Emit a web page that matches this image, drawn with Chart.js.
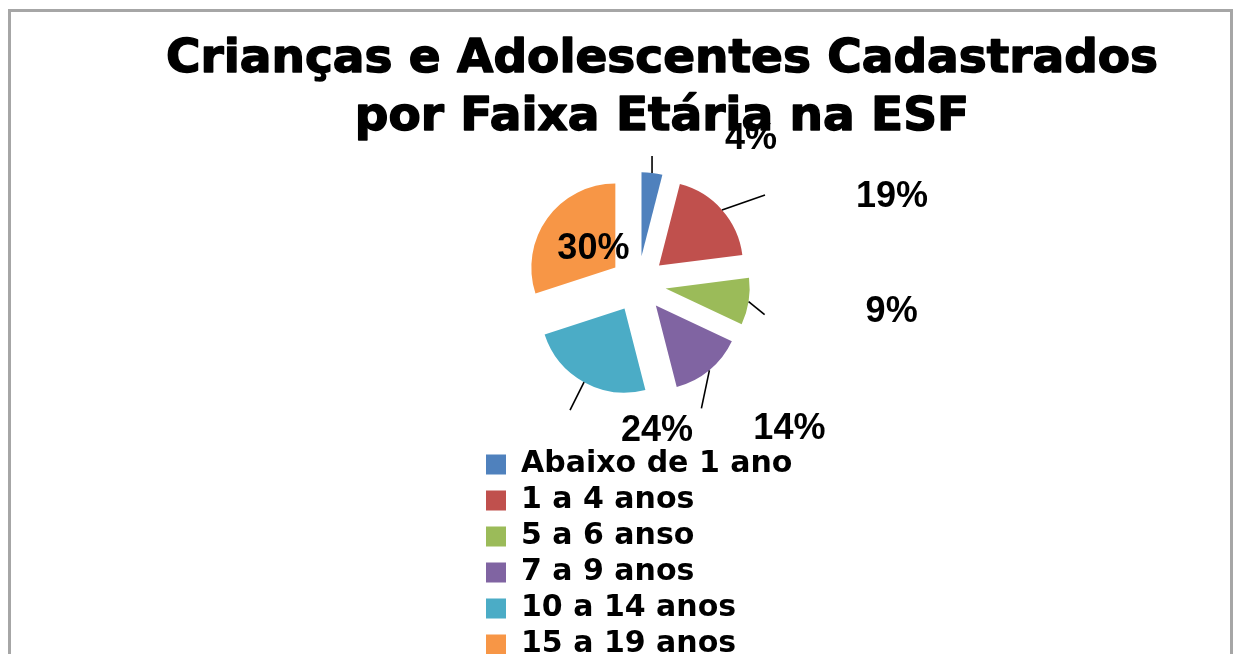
<!DOCTYPE html>
<html>
<head>
<meta charset="utf-8">
<script src="https://cdn.jsdelivr.net/npm/chart.js@4.4.1/dist/chart.umd.min.js"></script>
<style>
  html, body { margin: 0; padding: 0; background: #fff; overflow: hidden; }
  #frame {
    position: absolute; left: 8px; top: 9px; width: 1219px; height: 700px;
    border: 3px solid #a6a6a6; border-bottom: none; pointer-events: none;
  }
  #chart { position: absolute; left: 0; top: 0; }
</style>
</head>
<body>
<canvas id="chart" width="1233" height="680"></canvas>
<div id="frame"></div>
<script>
const titleLines = ["Crianças e Adolescentes Cadastrados", "por Faixa Etária na ESF"];
const ageGroups = ["Abaixo de 1 ano", "1 a 4 anos", "5 a 6 anso", "7 a 9 anos", "10 a 14 anos", "15 a 19 anos"];
const shares = [4, 19, 9, 14, 24, 30];
const sliceColors = ["#4f81bd", "#c0504d", "#9bbb59", "#8064a2", "#4bacc6", "#f79646"];

// title is drawn by hand: the built-in one gets squeezed to the narrow layout box
const titleBlock = {
  id: "titleBlock",
  afterDraw(chart, args, opts) {
    const ctx = chart.ctx;
    ctx.save();
    ctx.font = opts.font;
    ctx.fillStyle = "#000";
    ctx.strokeStyle = "#000";
    ctx.lineWidth = opts.weightStroke;
    ctx.lineJoin = "round";
    ctx.textAlign = "center";
    ctx.textBaseline = "alphabetic";
    opts.lines.forEach((line, i) => {
      const y = opts.baseline + i * opts.lineGap;
      ctx.fillText(line, opts.x, y);
      ctx.strokeText(line, opts.x, y);   // fake a heavier weight
    });
    ctx.restore();
  }
};

// exploded slices + percent labels with leader lines (Excel style)
const explodedPie = {
  id: "explodedPie",
  beforeDatasetDraw(chart, args, opts) {
    const ctx = chart.ctx;
    args.meta.data.forEach(arc => {
      const mid = (arc.startAngle + arc.endAngle) / 2;
      ctx.save();
      ctx.translate(Math.cos(mid) * opts.distance, Math.sin(mid) * opts.distance);
      arc.draw(ctx);
      ctx.restore();
    });
    return false;
  },
  afterDatasetsDraw(chart, args, opts) {
    const ctx = chart.ctx;
    const meta = chart.getDatasetMeta(0);
    const values = chart.data.datasets[0].data;
    const total = values.reduce((a, b) => a + b, 0);
    ctx.save();
    ctx.font = opts.font;
    ctx.fillStyle = "#000";
    ctx.strokeStyle = "#000";
    ctx.lineWidth = 1.6;
    ctx.textAlign = "center";
    ctx.textBaseline = "middle";
    meta.data.forEach((arc, i) => {
      const mid = (arc.startAngle + arc.endAngle) / 2;
      const r = arc.outerRadius + opts.distance;
      const ex = arc.x + Math.cos(mid) * r;
      const ey = arc.y + Math.sin(mid) * r;
      const p = opts.placement[i];
      if (p.leader) {
        ctx.beginPath();
        ctx.moveTo(ex, ey);
        ctx.lineTo(ex + p.leader[0], ey + p.leader[1]);
        ctx.stroke();
      }
      const pct = Math.round(values[i] / total * 100) + "%";
      ctx.fillText(pct, ex + p.text[0], ey + p.text[1]);
    });
    ctx.restore();
  }
};

new Chart(document.getElementById("chart"), {
  type: "pie",
  data: {
    labels: ageGroups,
    datasets: [{
      data: shares,
      backgroundColor: sliceColors,
      borderWidth: 0
    }]
  },
  options: {
    responsive: false,
    animation: false,
    radius: 84,
    layout: {
      padding: { top: 124.5, left: 480, right: 437, bottom: 10.5 }
    },
    plugins: {
      title: { display: false },
      legend: {
        position: "bottom",
        align: "start",
        labels: {
          color: "#000",
          boxWidth: 20,
          boxHeight: 20,
          padding: 6,
          font: { family: "'DejaVu Sans'", size: 30, weight: "bold" }
        }
      },
      tooltip: { enabled: false },
      titleBlock: {
        lines: titleLines,
        font: "bold 47px 'DejaVu Sans'",
        weightStroke: 1.5,
        x: 662,
        baseline: 72,
        lineGap: 58
      },
      explodedPie: {
        distance: 28,
        font: "bold 36px 'Liberation Sans'",
        placement: [
          { leader: [0, -17], text: [99, -34] },
          { leader: [43, -15], text: [170, -13] },
          { leader: [16, 13], text: [143, 11] },
          { leader: [-8, 38], text: [80, 59] },
          { leader: [-14, 28], text: [73, 49] },
          { leader: null, text: [46, 31] }
        ]
      }
    }
  },
  plugins: [explodedPie, titleBlock]
});
</script>
</body>
</html>
